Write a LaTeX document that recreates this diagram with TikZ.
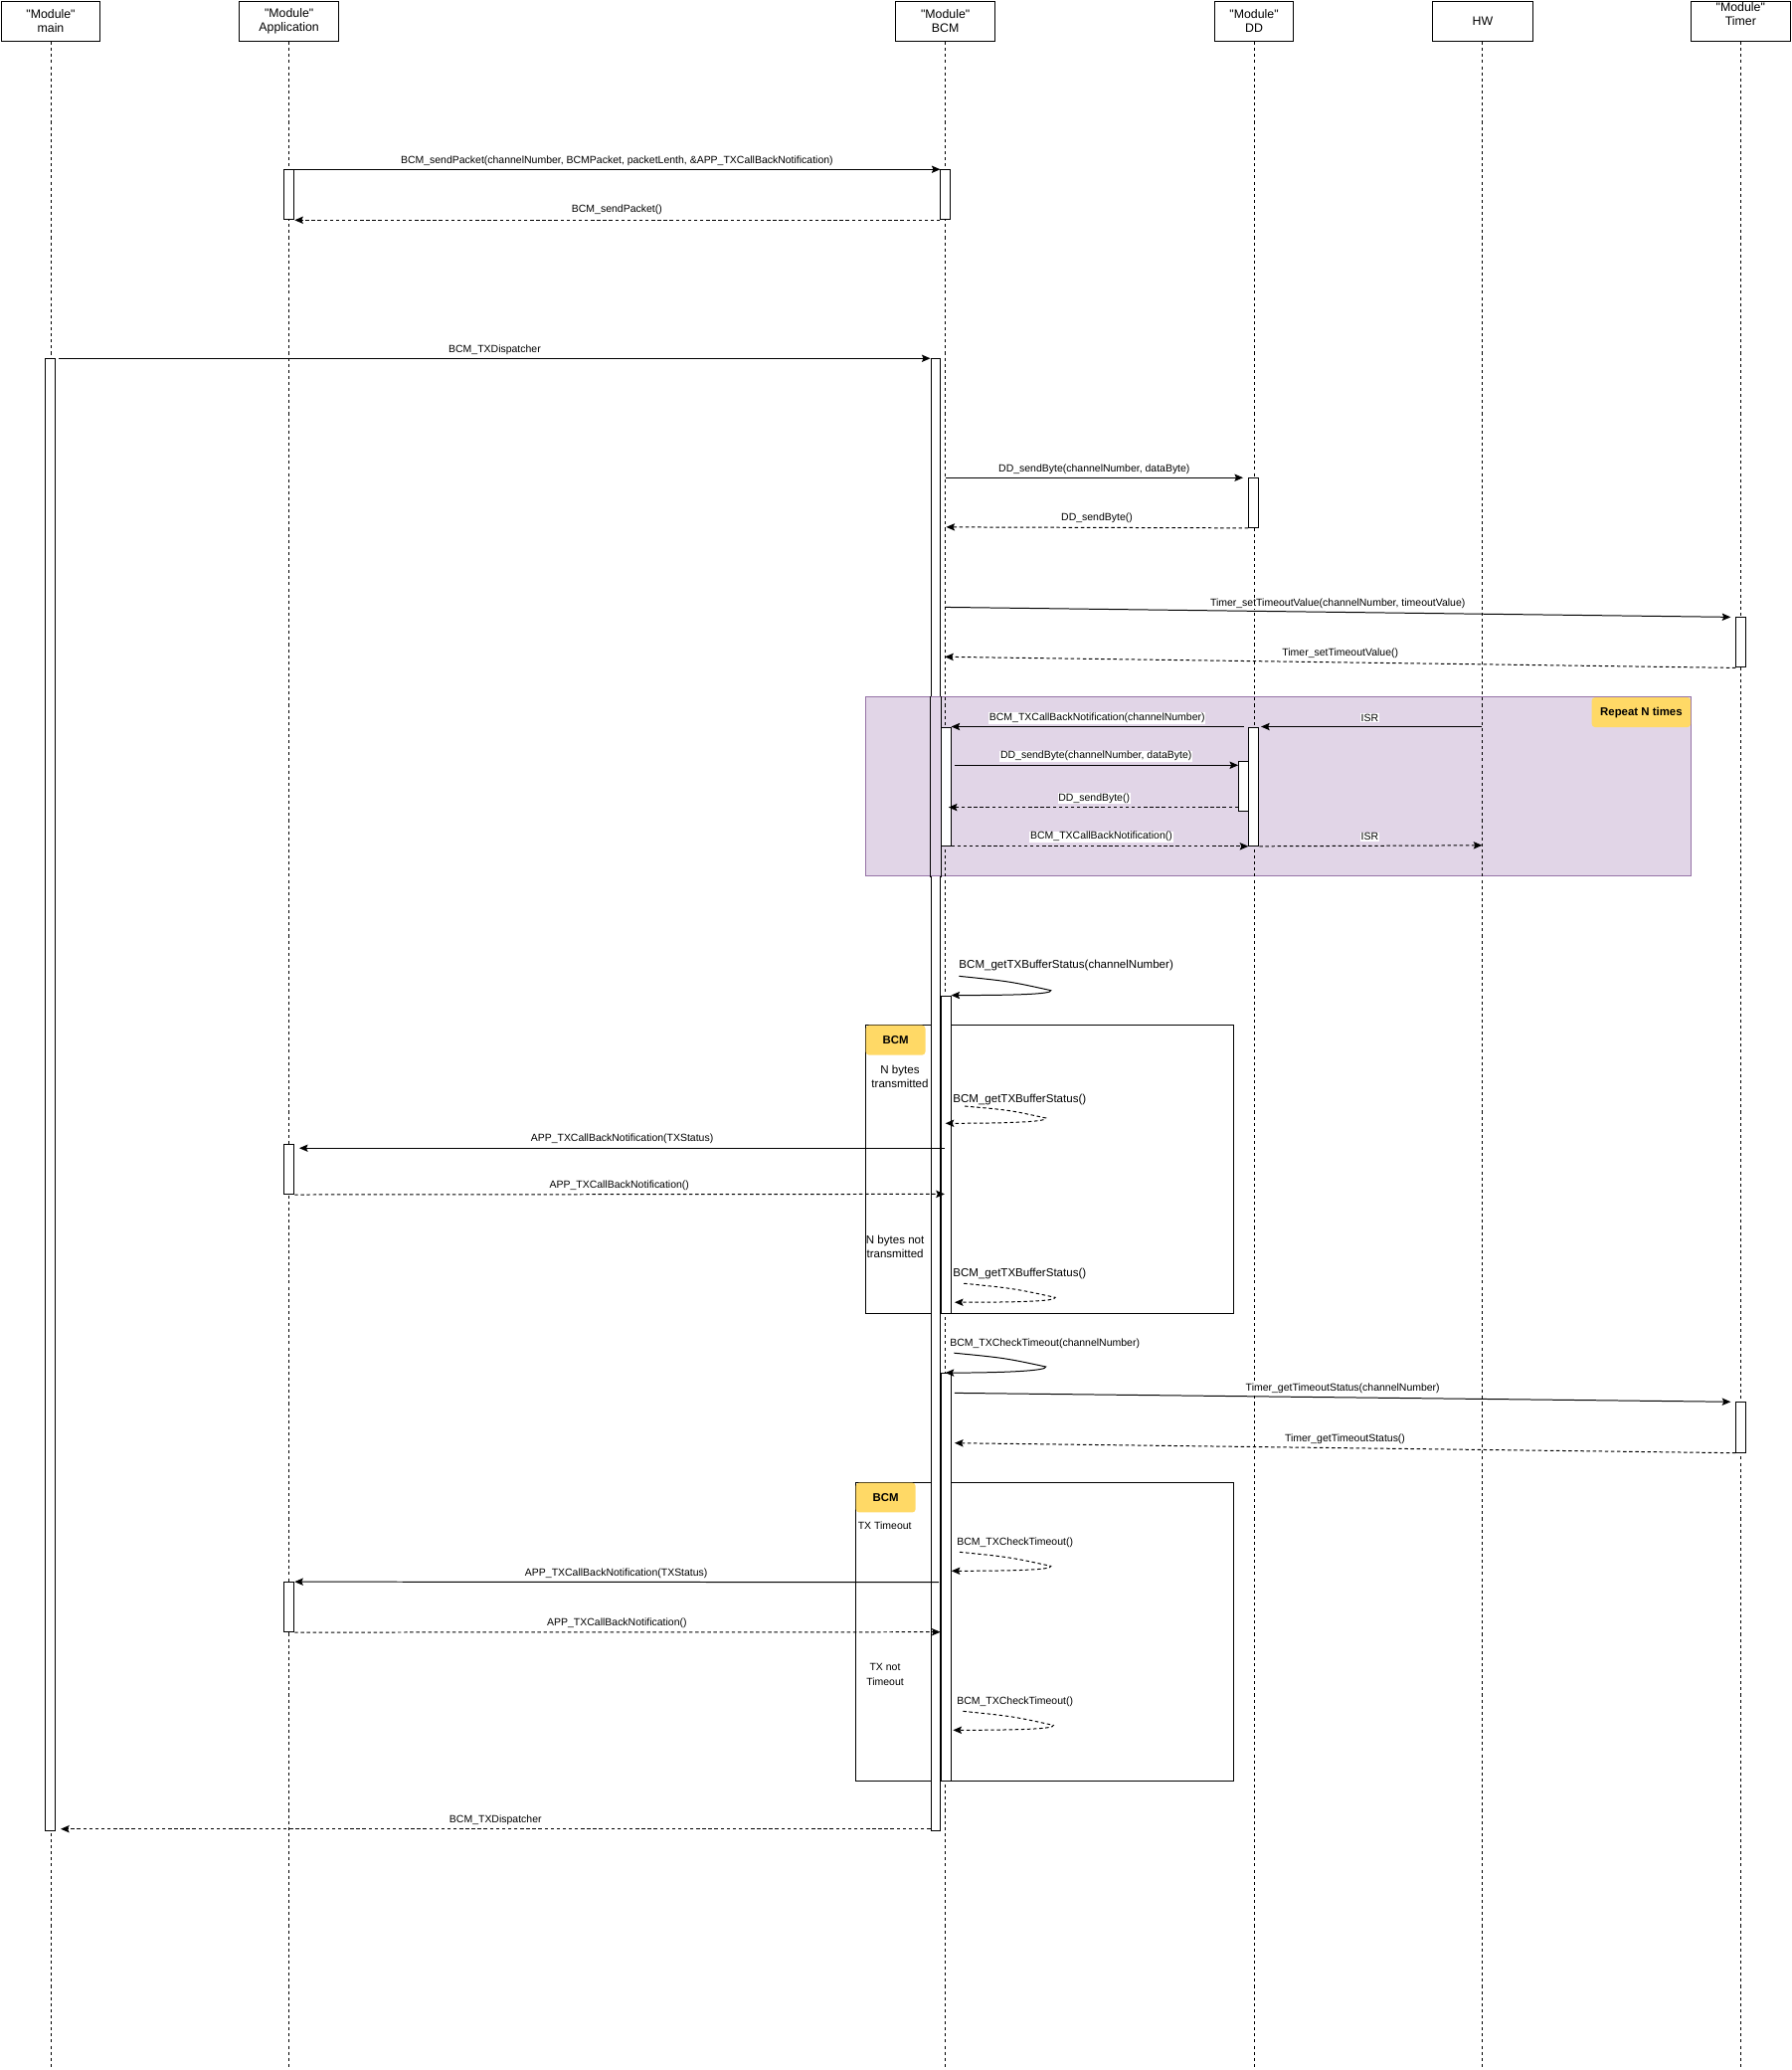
\documentclass[tikz,border=0pt]{standalone}
\usepackage{fontspec}
\setmainfont{Liberation Sans}[Ligatures=TeXOff]
\usetikzlibrary{arrows.meta,calc}
\definecolor{loopfill}{HTML}{E1D5E7}
\definecolor{loopdraw}{HTML}{9673A6}
\definecolor{tagfill}{HTML}{FFD966}
\newcommand{\msgfont}{\fontsize{7.9}{9.5}\selectfont}
\newcommand{\bigmsgfont}{\fontsize{8.7}{10.7}\selectfont}
\newcommand{\headfont}{\fontsize{9.3}{10.6}\selectfont}
\newcommand{\seqself}[4]{%
  \draw[#1] (#2) .. controls ($(#2)!0.55!(#3)+(0,-2)$) .. (#3)
    .. controls ($(#3)+(1.5,3)$) and ($(#4)+(45,0)$) .. (#4);}
\tikzset{
  head/.style={draw, fill=white, line width=0.75pt, anchor=north west, inner sep=0pt,
    align=center, font=\headfont, minimum height=30.6pt},
  lifeline/.style={line width=0.7pt, dash pattern=on 2.3pt off 2.3pt},
  actbar/.style={draw, fill=white, line width=0.75pt, anchor=north west, inner sep=0pt,
    minimum width=7.5pt},
  callmsg/.style={line width=0.75pt, -{Stealth[length=6.5pt,width=5.5pt,inset=1.2pt]}},
  retmsg/.style={callmsg, dash pattern=on 2.6pt off 2pt},
  msglabel/.style={fill=white, inner sep=0.6pt, font=\msgfont},
  selflabel/.style={anchor=west, inner sep=0pt, font=\bigmsgfont},
  selfsmall/.style={anchor=west, inner sep=0pt, font=\msgfont},
  tag/.style={fill=tagfill, rounded corners=2.5pt, anchor=north west, inner sep=0pt,
    font=\fontsize{8.6}{10}\selectfont\bfseries},
  frame/.style={draw, line width=0.75pt, anchor=north west, inner sep=0pt},
}
\begin{document}
\begin{tikzpicture}[x=1pt,y=-1pt]
\useasboundingbox (0,0) rectangle (1357.2,1568.2);
\coordinate (bottom) at (0,1568.2);
% ---------------- headers and lifelines
\node[head, minimum width=75.3pt] (hMain) at (0.4,0.4) {"Module"\\main};
\node[head, minimum width=75.7pt] (hApp) at (180.8,0.4) {"Module"\\Application};
\node[head, minimum width=75.8pt] (hBCM) at (678.1,0.4) {"Module"\\BCM};
\node[head, minimum width=60.2pt] (hDD) at (919.8,0.4) {"Module"\\DD};
\node[head, minimum width=75.8pt] (hHW) at (1085.2,0.4) {HW};
\node[head, minimum width=75.3pt] (hTimer) at (1281.4,0.4) {};
\node[align=center, font=\headfont, inner sep=0pt] (tTimer) at (1319,10.3) {"Module"\\Timer};
\foreach \h in {hMain,hApp,hBCM,hDD,hHW,hTimer}
  \draw[lifeline] (\h.south) -- (\h.south |- bottom);
% ---------------- alt frames
\node[frame, minimum width=278.7pt, minimum height=218.3pt] (alt1) at (655.8,776.4) {};
\node[frame, minimum width=286.3pt, minimum height=226pt] (alt2) at (648.3,1123) {};
% ---------------- long activation bars
\node[actbar, minimum height=1115.4pt] (aMain) at (34.2,271.5) {};
\node[actbar, minimum height=1114.9pt] (aBCM) at (705,271.5) {};
% ---------------- loop frame
\node[draw=loopdraw, fill=loopfill, line width=0.75pt, anchor=north west, inner sep=0pt,
  minimum width=625.2pt, minimum height=135.6pt] (loop) at (655.8,527.7) {};
\begin{scope}
  \clip (loop.north west) rectangle (loop.south east);
  \foreach \h in {hBCM,hDD,hHW}
    \draw[lifeline] (\h.south) -- (\h.south |- bottom);
  \draw[line width=0.75pt] (aBCM.north west) rectangle (aBCM.south east);
\end{scope}
\node[tag, minimum width=75pt, minimum height=22.6pt] (rep) at (1206,528.1) {Repeat N times};
% ---------------- tags of alt frames
\node[tag, minimum width=45.1pt, minimum height=22.6pt] (tag1) at (655.9,776.5) {BCM};
\node[tag, minimum width=45.2pt, minimum height=22.5pt] (tag2) at (648.4,1123.1) {BCM};
\node[font=\bigmsgfont, align=center, inner sep=0pt] (g1a) at (682,815.4) {N bytes\\transmitted};
\node[font=\bigmsgfont, align=center, inner sep=0pt] (g1b) at (678.3,944.4) {N bytes not\\transmitted};
\node[font=\msgfont, anchor=west, inner sep=0pt] (g2a) at (650,1156) {TX Timeout};
\node[font=\fontsize{7.9}{11.3}\selectfont, align=center, inner sep=0pt] (g2b) at (670.7,1268.7) {TX not\\Timeout};
% ---------------- other activation bars
\node[actbar, minimum height=37.7pt] (aApp1) at (215,128.3) {};
\node[actbar, minimum height=37.7pt] (aBCM1) at (712.5,128.3) {};
\node[actbar, minimum height=37.4pt] (aDD1) at (945.8,361.9) {};
\node[actbar, minimum height=37.7pt] (aTim1) at (1315.3,467.5) {};
\node[actbar, minimum height=89.9pt] (aBCM2) at (712.6,550.5) {};
\node[actbar, minimum height=89.9pt] (aDD2) at (946,550.5) {};
\node[actbar, minimum height=37.6pt] (aDD3) at (938.3,576.7) {};
\node[actbar, minimum height=240.7pt] (aBCM3) at (712.6,754) {};
\node[actbar, minimum height=37.6pt] (aApp2) at (215,866.7) {};
\node[actbar, minimum height=309pt] (aBCM4) at (712.6,1040) {};
\node[actbar, minimum height=38pt] (aTim2) at (1315.3,1062) {};
\node[actbar, minimum height=37.6pt] (aApp3) at (215,1198.3) {};
% ---------------- free ends of messages
\coordinate (m3s) at (44.7,271.5);
\coordinate (m4s) at (716.3,361.9);
\coordinate (m4e) at (942,361.9);
\coordinate (m5e) at (717,399.3);
\coordinate (m6s) at (716,460);
\coordinate (m6e) at (1311.5,467.5);
\coordinate (m7e) at (716,497.6);
\coordinate (m8s) at (942.4,550.5);
\coordinate (m9s) at (1123.1,550.5);
\coordinate (m9e) at (955.6,550.5);
\coordinate (m10s) at (723.8,579.7);
\coordinate (m10e) at (938.3,579.7);
\coordinate (m11s) at (938.3,611.6);
\coordinate (m11e) at (718.8,611.6);
\coordinate (m13e) at (1123.1,640.4);
\coordinate (m16s) at (716,869.8);
\coordinate (m16e) at (226.8,869.8);
\coordinate (m17e) at (715.8,904.6);
\coordinate (m20s) at (723.4,1055.3);
\coordinate (m20e) at (1311.5,1062);
\coordinate (m21e) at (723.4,1093.2);
\coordinate (m23s) at (711.4,1198.7);
\coordinate (m24e) at (712.6,1236.4);
\coordinate (m26e) at (46,1385.6);
% ---------------- messages
\draw[callmsg] (aApp1.north east) -- (aBCM1.north west);
\draw[retmsg] (aBCM1.south west) -- (aApp1.south east);
\draw[callmsg] (m3s) -- (aBCM.north west);
\draw[callmsg] (m4s) -- (m4e);
\draw[retmsg] (aDD1.south west) -- (m5e);
\draw[callmsg] (m6s) -- (m6e);
\draw[retmsg] (aTim1.south west) -- (m7e);
\draw[callmsg] (m8s) -- (aBCM2.north east);
\draw[callmsg] (m9s) -- (m9e);
\draw[callmsg] (m10s) -- (m10e);
\draw[retmsg] (m11s) -- (m11e);
\draw[retmsg] (aBCM2.south east) -- (aDD2.south west);
\draw[retmsg] (aDD2.south east) -- (m13e);
\draw[callmsg] (m16s) -- (m16e);
\draw[retmsg] (aApp2.south east) -- (m17e);
\draw[callmsg] (m20s) -- (m20e);
\draw[retmsg] (aTim2.south west) -- (m21e);
\draw[callmsg] (m23s) -- (aApp3.north east);
\draw[retmsg] (aApp3.south east) -- (m24e);
\draw[retmsg] (aBCM.south west |- 0,1385.6) -- (m26e);
% ---------------- self messages
\coordinate (s1) at (726.7,739.5); \coordinate (t1) at (796.3,750.3); \coordinate (e1) at (720.8,754);
\coordinate (s2) at (731,838);     \coordinate (t2) at (792.5,847);   \coordinate (e2) at (716.4,851);
\coordinate (s3) at (730.4,972.3); \coordinate (t3) at (799.6,982.9); \coordinate (e3) at (723.4,986.6);
\coordinate (s4) at (722.9,1025);  \coordinate (t4) at (792.5,1035.4);\coordinate (e4) at (716.4,1040);
\coordinate (s5) at (727.2,1175.8);\coordinate (t5) at (796.3,1186.4);\coordinate (e5) at (721,1190.1);
\coordinate (s6) at (729.7,1296.4);\coordinate (t6) at (798.3,1307);  \coordinate (e6) at (722.2,1310.7);
\seqself{callmsg}{s1}{t1}{e1}
\seqself{retmsg}{s2}{t2}{e2}
\seqself{retmsg}{s3}{t3}{e3}
\seqself{callmsg}{s4}{t4}{e4}
\seqself{retmsg}{s5}{t5}{e5}
\seqself{retmsg}{s6}{t6}{e6}
% ---------------- labels
\node[msglabel] (l1) at (467.5,121.8) {BCM\_sendPacket(channelNumber, BCMPacket, packetLenth, \&APP\_TXCallBackNotification)};
\node[msglabel] (l2) at (467.5,159.2) {BCM\_sendPacket()};
\node[msglabel] (l3) at (374.9,264.9) {BCM\_TXDispatcher};
\node[msglabel] (l4) at (829.2,355.6) {DD\_sendByte(channelNumber, dataByte)};
\node[msglabel] (l5) at (831.2,392.7) {DD\_sendByte()};
\node[msglabel] (l6) at (1013.7,457.2) {Timer\_setTimeoutValue(channelNumber, timeoutValue)};
\node[msglabel] (l7) at (1015.6,494.8) {Timer\_setTimeoutValue()};
\node[msglabel] (l8) at (831.4,544) {BCM\_TXCallBackNotification(channelNumber)};
\node[msglabel] (l9) at (1038,544) {ISR};
\node[msglabel] (l10) at (830.6,572.9) {DD\_sendByte(channelNumber, dataByte)};
\node[msglabel] (l11) at (829.1,604.8) {DD\_sendByte()};
\node[msglabel] (l12) at (834.6,633.9) {BCM\_TXCallBackNotification()};
\node[msglabel] (l13) at (1038,633.9) {ISR};
\node[selflabel] (l14) at (726.6,731.5) {BCM\_getTXBufferStatus(channelNumber)};
\node[selflabel] (l15) at (722,833.2) {BCM\_getTXBufferStatus()};
\node[msglabel] (l16) at (471.4,862.9) {APP\_TXCallBackNotification(TXStatus)};
\node[msglabel] (l17) at (469.3,897.9) {APP\_TXCallBackNotification()};
\node[selflabel] (l18) at (722,965) {BCM\_getTXBufferStatus()};
\node[selfsmall] (l19) at (719.7,1018) {BCM\_TXCheckTimeout(channelNumber)};
\node[msglabel] (l20) at (1017.5,1052.1) {Timer\_getTimeoutStatus(channelNumber)};
\node[msglabel] (l21) at (1019.2,1090) {Timer\_getTimeoutStatus()};
\node[selfsmall] (l22) at (725,1168.8) {BCM\_TXCheckTimeout()};
\node[msglabel] (l23) at (467,1191.9) {APP\_TXCallBackNotification(TXStatus)};
\node[msglabel] (l24) at (467.5,1229.6) {APP\_TXCallBackNotification()};
\node[selfsmall] (l25) at (725,1289.4) {BCM\_TXCheckTimeout()};
\node[msglabel] (l26) at (375.5,1379) {BCM\_TXDispatcher};
\end{tikzpicture}
\end{document}
